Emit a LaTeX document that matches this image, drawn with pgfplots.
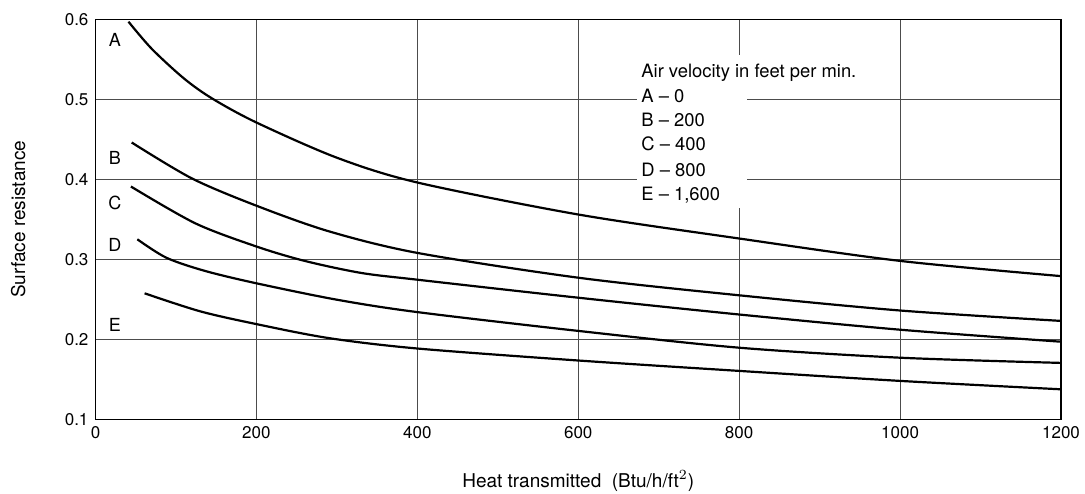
\documentclass[border=0pt]{standalone}
\usepackage{pgfplots}
\pgfplotsset{compat=1.18}
\usepackage{fontspec}
\setmainfont{TeX Gyre Heros}
\begin{document}
\begin{tikzpicture}
\begin{axis}[
  name=a,
  scale only axis,
  width=482.75pt, height=200pt,
  xmin=0, xmax=1200, ymin=0.1, ymax=0.6,
  xtick={0,200,...,1200}, ytick={0.1,0.2,0.3,0.4,0.5,0.6},
  /pgf/number format/assume math mode=true,
  yticklabel style={/pgf/number format/.cd,fixed,fixed zerofill,precision=1},
  xticklabel style={/pgf/number format/.cd,fixed,1000 sep={}},
  ticklabel style={font=\fontsize{8.5}{9}\selectfont},
  major tick length=0pt,
  grid=major,
  grid style={black!70, line width=0.5pt},
  axis line style={black, line width=0.6pt},
  xlabel={Heat transmitted\ \ (Btu/h/ft$^2$)},
  ylabel={Surface resistance},
  label style={font=\fontsize{9.5}{10}\selectfont},
  xlabel style={at={(axis description cs:0.5,-0.155)}, anchor=center},
  ylabel style={at={(axis description cs:-0.08,0.5)}, anchor=center},
]
\fill[white] (axis cs:673,0.364) rectangle (axis cs:810,0.555);
\addplot[black, line width=1.1pt, smooth] coordinates {
(41,0.597) (70,0.563) (110,0.526) (145,0.501) (200,0.471) (300,0.427) (400,0.396) (600,0.356) (800,0.326) (1000,0.298) (1200,0.279)};
\addplot[black, line width=1.1pt, smooth] coordinates {
(45,0.446) (120,0.401) (200,0.367) (290,0.335) (400,0.308) (600,0.277) (800,0.255) (1000,0.236) (1200,0.223)};
\addplot[black, line width=1.1pt, smooth] coordinates {
(44,0.391) (124,0.345) (200,0.316) (260,0.298) (330,0.283) (400,0.2745) (600,0.252) (800,0.231) (1000,0.212) (1200,0.197)};
\addplot[black, line width=1.1pt, smooth] coordinates {
(52,0.325) (88,0.302) (136,0.2855) (200,0.270) (300,0.2495) (400,0.234) (600,0.2105) (800,0.1895) (1000,0.177) (1200,0.1705)};
\addplot[black, line width=1.1pt, smooth] coordinates {
(61,0.2575) (130,0.235) (200,0.219) (290,0.2015) (400,0.1885) (600,0.1735) (800,0.1605) (1000,0.148) (1200,0.1375)};
\begin{scope}[every node/.style={font=\fontsize{9}{10}\selectfont, inner sep=0pt, anchor=center}]
\node at (axis cs:24,0.574) {A};
\node at (axis cs:24,0.427) {B};
\node at (axis cs:24,0.370) {C};
\node at (axis cs:24,0.318) {D};
\node at (axis cs:24,0.218) {E};
\end{scope}
\begin{scope}[every node/.style={font=\fontsize{9.2}{10}\selectfont, inner sep=0pt, anchor=base west}]
\node at (axis cs:678,0.5267) {Air velocity in feet per min.};
\node at (axis cs:678,0.4954) {A \textendash{} 0};
\node at (axis cs:678,0.4654) {B \textendash{} 200};
\node at (axis cs:678,0.4354) {C \textendash{} 400};
\node at (axis cs:678,0.4041) {D \textendash{} 800};
\node at (axis cs:678,0.3741) {E \textendash{} 1,600};
\end{scope}
\end{axis}
\pgfresetboundingbox
\path ([xshift=-47.75pt,yshift=-36.85pt]a.south west) rectangle ([xshift=12pt,yshift=9.65pt]a.north east);
\end{tikzpicture}
\end{document}
